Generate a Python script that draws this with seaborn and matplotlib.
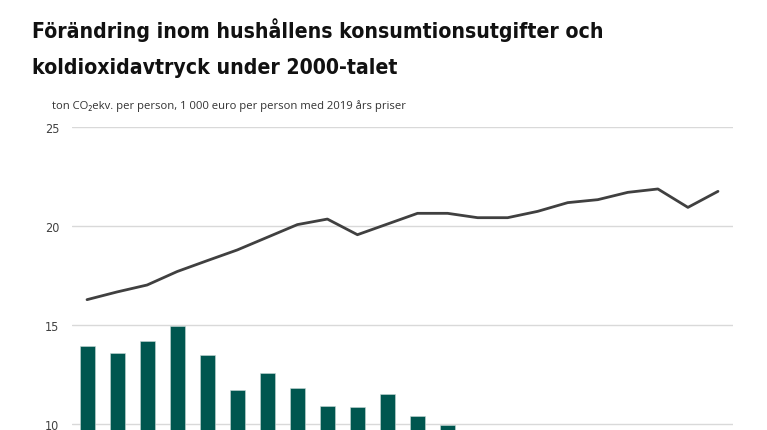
import numpy as np
import pandas as pd
import matplotlib
matplotlib.use("Agg")
import matplotlib.pyplot as plt
import seaborn as sns

# data
years_line = list(range(2000, 2022))
consumption = [16.28, 16.67, 17.02, 17.70, 18.25, 18.79, 19.43, 20.07, 20.35, 19.56, 20.10,
               20.64, 20.64, 20.42, 20.42, 20.74, 21.18, 21.33, 21.70, 21.87, 20.94, 21.75]
years_bar = list(range(2000, 2013))
co2 = [13.95, 13.57, 14.21, 14.93, 13.48, 11.72, 12.58, 11.83, 10.92, 10.87, 11.50, 10.39, 9.97]
yticks = [10, 15, 20, 25]
title_lines = ["Förändring inom hushållens konsumtionsutgifter och",
               "koldioxidavtryck under 2000-talet"]

df_line = pd.DataFrame({"year": years_line, "value": consumption})
df_bar = pd.DataFrame({"year": years_bar, "value": co2})

sns.set_theme(style="white")
plt.rcParams["font.family"] = ["DejaVu Sans"]

fig = plt.figure(figsize=(7.67, 4.31), dpi=100)
# the axes runs past the bottom edge, the reference is cropped there
ax = fig.add_axes([72 / 767, 1 - 623 / 431, 661 / 767, 495 / 431])

sns.barplot(data=df_bar, x="year", y="value", native_scale=True, width=0.5,
            color="#00564f", saturation=1, edgecolor="#c8d8d6", linewidth=0.4, ax=ax, zorder=3)
sns.lineplot(data=df_line, x="year", y="value", color="#404040", linewidth=2.0, ax=ax, zorder=4)

ax.set_xlim(1999.5, 2021.5)
ax.set_ylim(0, 25)
ax.set_yticks(yticks)
ax.set_yticklabels([str(t) for t in yticks], fontsize=9, color="#404040",
                   family=["DejaVu Sans"], fontstretch="condensed")
ax.tick_params(axis="y", length=0, pad=9)
ax.set_xticks([])
ax.set_xlabel("")
ax.set_ylabel("")
ax.yaxis.grid(True, color="#d9d9d9", linewidth=1)
ax.set_axisbelow(True)
sns.despine(ax=ax, left=True, bottom=True)

# title, two lines on their own baselines
for line, base in zip(title_lines, [38, 74]):
    fig.text(32 / 767, 1 - base / 431, line, fontsize=15.2, fontweight="bold",
             fontstretch="condensed", color="#111111", va="baseline", ha="left",
             family=["DejaVu Sans"])
fig.text(52 / 767, 1 - 106 / 431,
         "ton CO₂ekv. per person, 1 000 euro per person med 2019 års priser",
         fontsize=8.15, color="#333333", va="center", ha="left", family=["Open Sans", "DejaVu Sans"])

fig.savefig("out.png", dpi=100)
